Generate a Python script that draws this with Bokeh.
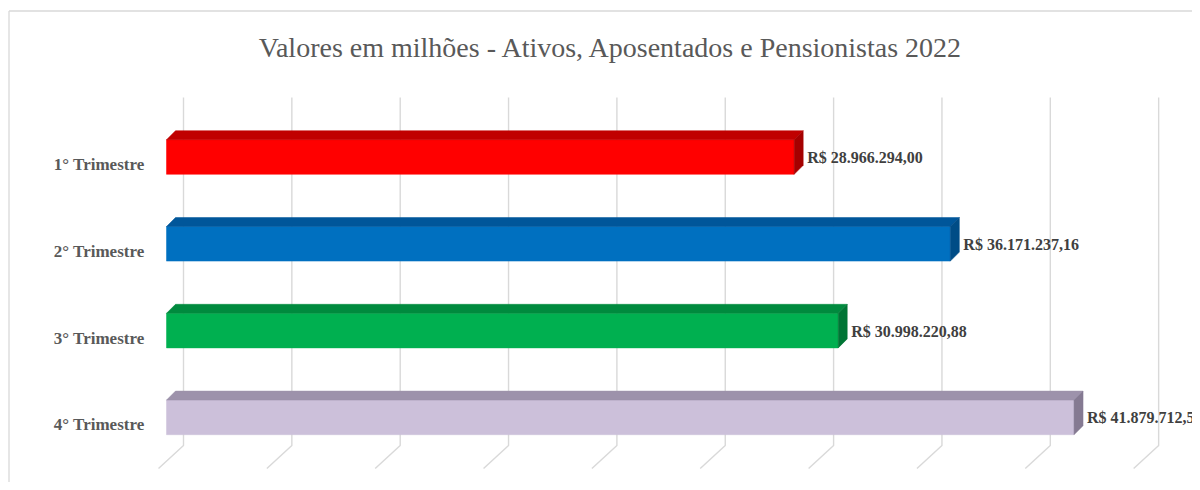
from bokeh.plotting import figure
from bokeh.models import Range1d
from bokeh.core.properties import value
from bokeh.embed import file_html
from bokeh.resources import INLINE

# ---- data ----
categories = ["1° Trimestre", "2° Trimestre", "3° Trimestre", "4° Trimestre"]
values = [28966294.00, 36171237.16, 30998220.88, 41879712.59]
grid_ticks = [0, 5, 10, 15, 20, 25, 30, 35, 40, 45]  # millions
title_text = "Valores em milhões - Ativos, Aposentados e Pensionistas 2022"

front_colors = ["#FF0000", "#0070C0", "#00B050", "#CCC0DA"]
top_colors = ["#C00000", "#00569A", "#008A3E", "#9D92AB"]
side_colors = ["#A50000", "#004C86", "#007535", "#857A92"]


def brl(v):
    s = f"{v:,.2f}"
    s = s.replace(",", "X").replace(".", ",").replace("X", ".")
    return "R$ " + s


# ---- scale helpers (pixel layout -> data units) ----
W, H = 1192, 482
PX = 21.67   # pixels per million
PY = 86.8    # pixels per category step
X0 = 166     # pixel of value 0
Y0 = 156.5   # pixel of first category centre


def xd(px):
    return (px - X0) / PX


def yd(py):
    return 1 + (py - Y0) / PY


p = figure(width=W, height=H, output_backend="svg", toolbar_location=None,
           x_range=Range1d(xd(0), xd(W)), y_range=Range1d(yd(H), yd(0)),
           min_border=0, min_border_left=0, min_border_right=0,
           min_border_top=0, min_border_bottom=0)
p.axis.visible = False
p.grid.visible = False
p.outline_line_color = None
p.background_fill_color = "white"
p.border_fill_color = "white"

# chart-area border (left and top)
p.segment(x0=[xd(8.5), xd(8.5)], y0=[yd(10.5), yd(10.5)],
          x1=[xd(8.5), xd(W)], y1=[yd(H), yd(10.5)],
          line_color="#D9D9D9", line_width=1.3)

# back-wall gridlines and floor diagonals
back = 17 / PX
gx, gy = [], []
for g in grid_ticks:
    gx.append([g + back, g + back, g + back - 25 / PX])
    gy.append([yd(97), yd(445), yd(468)])
p.multi_line(xs=gx, ys=gy, line_color="#D9D9D9", line_width=1.4)

# 3D bars
half = 17.3 / PY
ddx = 9 / PX
ddy = 9 / PY
for i, (cat, v) in enumerate(zip(categories, values)):
    k = i + 1
    m = v / 1e6
    top = k - half
    bot = k + half
    # front face
    p.quad(left=0, right=m, top=top, bottom=bot,
           fill_color=front_colors[i], line_color=front_colors[i], line_width=0.5)
    # top face
    p.patch(x=[0, m, m + ddx, ddx], y=[top, top, top - ddy, top - ddy],
            fill_color=top_colors[i], line_color=top_colors[i], line_width=0.5)
    # side face
    p.patch(x=[m, m + ddx, m + ddx, m], y=[top, top - ddy, bot - ddy, bot],
            fill_color=side_colors[i], line_color=side_colors[i], line_width=0.5)
    # value label
    p.text(x=[m + 13 / PX], y=[k + 0.5 / PY], text=[brl(v)],
           text_font=value("Liberation Serif"), text_font_style="bold",
           text_font_size="16px", text_color="#404040",
           text_align="left", text_baseline="alphabetic")
    # category label
    p.text(x=[xd(144)], y=[k + 7.5 / PY], text=[cat],
           text_font=value("Liberation Serif"), text_font_style="bold",
           text_font_size="17px", text_color="#595959",
           text_align="right", text_baseline="alphabetic")

# title
p.text(x=[xd(611)], y=[yd(47)], text=[title_text],
       text_font=value("Liberation Serif"), text_font_size="28px",
       text_color="#595959", text_align="center", text_baseline="alphabetic")

open("out.html", "w").write(file_html(p, INLINE))
